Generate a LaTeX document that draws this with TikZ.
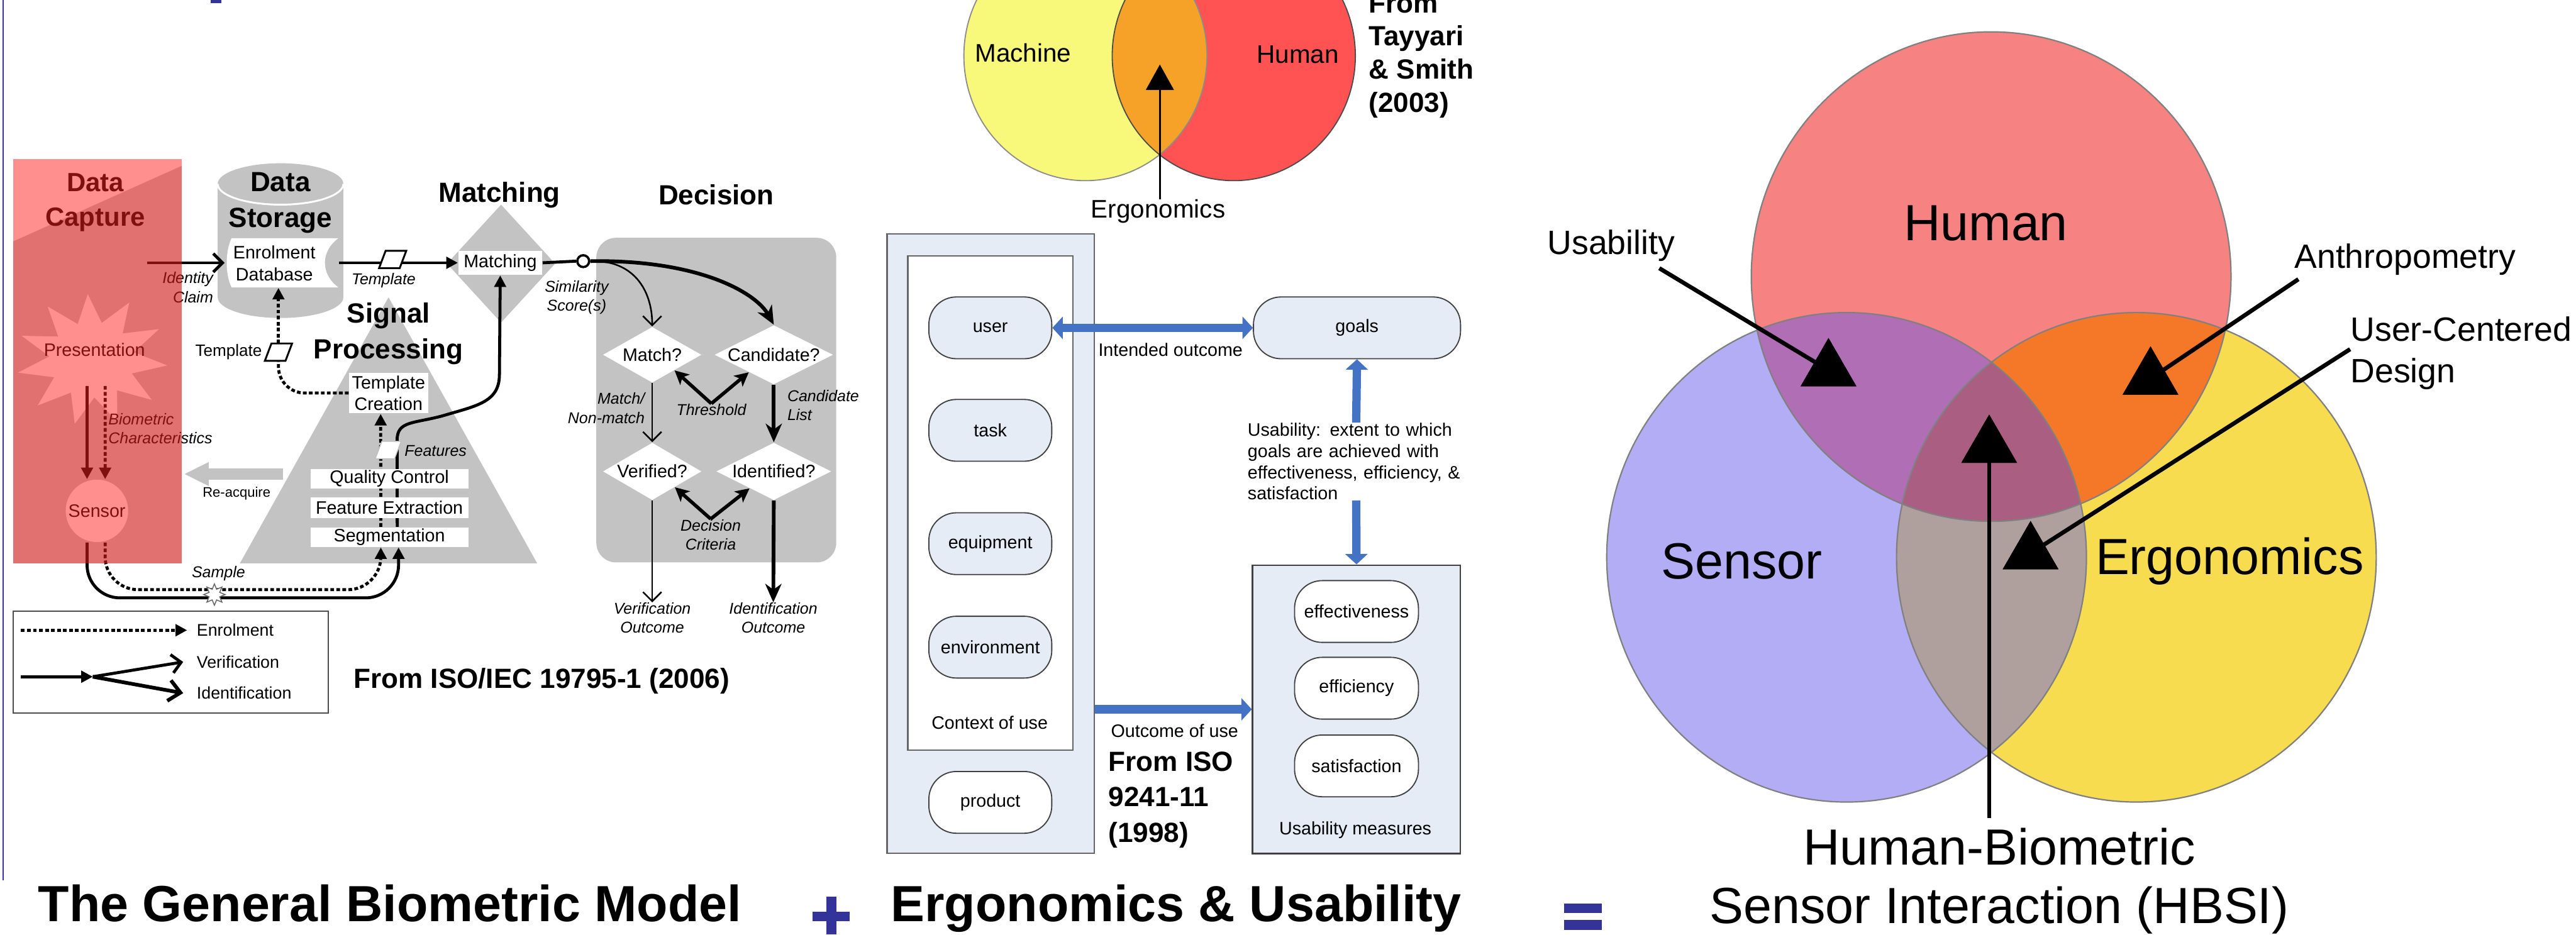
\documentclass[tikz,border=0pt]{standalone}
\usepackage{fontspec}
\setmainfont{Liberation Sans}
\usetikzlibrary{shapes.geometric, arrows.meta, positioning, calc}
\pgfdeclarelayer{bg}
\pgfdeclarelayer{fg}
\pgfsetlayers{bg,main,fg}

\definecolor{capgray}{RGB}{195,195,195}
\definecolor{capred}{RGB}{255,30,30}
\definecolor{slideblue}{RGB}{51,51,153}
\definecolor{paleblue}{RGB}{230,236,246}
\definecolor{isoblue}{RGB}{68,114,196}
\definecolor{machyellow}{RGB}{248,248,122}
\definecolor{humred}{RGB}{255,82,82}
\definecolor{ergorange}{RGB}{246,162,40}
\definecolor{hpink}{RGB}{247,130,130}
\definecolor{slav}{RGB}{179,173,245}
\definecolor{eyel}{RGB}{247,220,80}
\definecolor{hspurple}{RGB}{176,110,180}
\definecolor{heorange}{RGB}{245,120,40}
\definecolor{sebrown}{RGB}{175,160,158}
\definecolor{allmauve}{RGB}{170,95,130}

\newcommand{\fsz}[2]{\fontsize{#1}{#2}\selectfont}
% slanted template box drawn on a plain node
\newcommand{\slantbox}[2][draw=black]{\filldraw[fill=white, line width=0.8pt, #1] ([xshift=-0.05cm]#2.south west) -- ([xshift=-0.05cm]#2.south east) -- ([xshift=0.05cm]#2.north east) -- ([xshift=0.05cm]#2.north west) -- cycle;}
\newcommand{\jline}[1]{\makebox[3.3cm][s]{#1}}

\begin{document}
\begin{tikzpicture}[
  x=0.025cm, y=-0.025cm,
  bigtitle/.style={font={\fsz{22}{26}\bfseries}, inner sep=0},
  sechead/.style={font={\fsz{12}{15.5}\bfseries}, inner sep=0, align=center},
  lbl/.style={font={\fsz{7.8}{9.4}}, inner sep=0, align=center},
  ilbl/.style={font={\fsz{6.8}{8.2}\itshape}, inner sep=0, align=center},
  wbox/.style={fill=white, inner sep=0, font={\fsz{7.8}{9.4}}, align=center},
  dia/.style={diamond, aspect=2, fill=white, inner sep=0, font={\fsz{7.8}{9.4}}},
  para/.style={inner sep=0, minimum width=0.3cm, minimum height=0.25cm},
  pill/.style={draw=black!75, line width=0.5pt, fill=paleblue, rounded corners=0.42cm, minimum width=1.87cm, minimum height=0.94cm, font={\fsz{7.8}{9.4}}, inner sep=0},
  enr/.style={line width=1.3pt, dash pattern=on 1.6pt off 1pt},
  ver/.style={line width=1.3pt},
  arr/.style={-{Triangle[length=5pt,width=5pt]}},
  barb/.style={line width=0.7pt, -{Straight Barb[length=4pt,width=8pt]}},
  heavy/.style={line width=1.6pt, -{Stealth[length=8pt,width=7pt,inset=2.5pt]}},
  tharr/.style={line width=1.5pt, -{Stealth[length=6pt,width=6pt,inset=1.5pt]}},
  barrow/.style={isoblue, line width=3.6pt},
  btip/.style={-{Triangle[length=4.5pt,width=9.5pt]}},
  venn/.style={font={\fsz{22}{25.4}}, inner sep=0, align=center},
  vsmall/.style={font={\fsz{14.6}{18}}, inner sep=0, align=left},
  pointer/.style={line width=1.8pt},
  tmark/.style={regular polygon, regular polygon sides=3, fill=black, minimum size=0.98cm, inner sep=0}
]
\useasboundingbox (0,0) rectangle (1568,569);
\clip (0,0) rectangle (1568,569);

\fill[slideblue] (1.4,0) rectangle (2.4,536);
\fill[slideblue] (128.4,0) rectangle (134.8,1.8);

% general biometric model
\begin{pgfonlayer}{bg}
  \fill[capgray] (8,147) -- (110.6,101) -- (110.6,343) -- (8,343) -- cycle;
  \fill[white] plot[samples at={0,...,21}] ({56+(46-20*mod(\x,2))*cos(\x*360/22+5)}, {219+(40-17*mod(\x,2))*sin(\x*360/22+5)}) -- cycle;
  \fill[capgray] (236.5,181) -- (146,343) -- (327,343) -- cycle;
  \fill[capgray] (132.5,112) -- (132.5,181) arc[start angle=180, end angle=0, x radius=38.25, y radius=12.6] -- (209,112) arc[start angle=0, end angle=-180, x radius=38.25, y radius=12.6] -- cycle;
  \draw[white, line width=0.8pt] (132.5,112) arc[start angle=180, end angle=0, x radius=38.25, y radius=12.6];
  \fill[white] (141,145) -- (206,145) .. controls (195,153) and (195,167) .. (206,175) -- (141,175) .. controls (137,167) and (137,153) .. (141,145) -- cycle;
  \node[diamond, fill=capgray, inner sep=0, minimum width=1.65cm, minimum height=1.8cm] (mdia) at (305,160.5) {};
  \node[fill=capgray, rounded corners=0.3cm, minimum width=3.65cm, minimum height=4.94cm, inner sep=0] (dec) at (436,243.6) {};
  \coordinate (rq1) at (172.4,288.6);
  \coordinate (rq2) at (112,288.6);
  \draw[capgray, line width=4.8pt, -{Triangle[length=10.7pt,width=9.5pt]}] (rq1) -- (rq2);
\end{pgfonlayer}

\node[sechead, font={\fsz{11.4}{15}\bfseries}] (cap) at (58,123.4) {Data\\Capture};
\node[lbl] (pres) at (57.5,213) {Presentation};
\node[circle, fill=white, minimum size=0.95cm, inner sep=0, font={\fsz{7.8}{9.4}}] (sens) at (59,311) {Sensor};
\node[ilbl, anchor=west, align=left] (bchar) at (65.7,261) {Biometric\\Characteristics};
\node[lbl, font={\fsz{6}{7}}] (reacq) at (144,300.6) {Re-acquire};
\node[ilbl, anchor=east, align=right] (idcl) at (130,175) {Identity\\Claim};
\node[sechead] (stor) at (170.7,123.4) {Data\\Storage};
\node[minimum width=1.625cm, minimum height=0.75cm, inner sep=0] (edb) at (173.5,160) {};
\node[lbl] (edbt) at (167,160.3) {Enrolment\\Database};
\node[sechead] (matt) at (304,118.6) {Matching};
\node[wbox, minimum width=1.275cm, minimum height=0.37cm] (mbox) at (304.5,160) {Matching};
\node[para] (tpl1) at (239,158) {};
\slantbox{tpl1}
\node[ilbl] (tpl1l) at (233.5,170.7) {Template};
\node[sechead] (sigp) at (236.5,203.3) {Signal\\Processing};
\node[wbox, minimum width=1.2cm, minimum height=0.62cm] (tc) at (236.5,239.3) {Template\\Creation};
\node[para] (tpl2) at (169.5,214.4) {};
\slantbox{tpl2}
\node[lbl, font={\fsz{7.1}{8}}, anchor=east] (tpl2l) at (159.7,214.4) {Template};
\node[para, minimum width=0.28cm] (feat) at (236.3,274) {};
\slantbox[draw=black!25, line width=0.4pt]{feat}
\node[ilbl, anchor=west] (featl) at (246,274.6) {Features};
\node[wbox, minimum width=2.4cm, minimum height=0.29cm] (qc) at (237,291.5) {Quality Control};
\node[wbox, minimum width=2.4cm, minimum height=0.31cm] (fe) at (237,309.2) {Feature Extraction};
\node[wbox, minimum width=2.4cm, minimum height=0.3cm] (seg) at (237,327) {Segmentation};
\node[ilbl] (sampl) at (133,349) {Sample};
\node[circle, draw, line width=1pt, fill=white, minimum size=0.18cm, inner sep=0] (sim) at (355,159) {};
\node[ilbl] (siml) at (351,181) {Similarity\\Score(s)};

\begin{pgfonlayer}{bg}
  \coordinate (bc1) at (53,235);
  \coordinate (bc2) at (64,235);
  \draw[ver, arr] (bc1) -- ([xshift=-1.5mm]sens.north);
  \draw[enr, arr] (bc2) -- ([xshift=1.25mm]sens.north);
  \coordinate (idc) at (89.4,160);
  \draw[ver, -{Straight Barb[length=4pt,width=8pt]}] (idc) -- ([xshift=-1mm]edb.west);
  \draw[ver, arr] (edb.east) -- (mbox.west);
  \draw[enr, rounded corners=4mm] (tc.west) -| (tpl2.south);
  \draw[enr, arr] (tpl2.north) -- (tpl2.north |- edb.south);
  \draw[enr, arr] ([xshift=-1.3mm]seg.north) -- ([xshift=-1.2mm]tc.south);
  \draw[ver, arr] ([xshift=1.2mm]seg.north) -- (241.7,268) .. controls (241.7,256) and (252,258) .. (270,253) .. controls (290,247) and (304,245) .. (304,228) -- (mbox.south);
  \coordinate (sb1) at (150,364);
  \coordinate (sb2) at (150,359);
  \draw[ver, arr, rounded corners=5mm] ([xshift=-1.5mm]sens.south) |- (sb1) -| ([xshift=1.4mm]seg.south);
  \draw[enr, arr, rounded corners=5mm] ([xshift=1.25mm]sens.south) |- (sb2) -| ([xshift=-1.3mm]seg.south);
  \draw[ver] (mbox.east) -- (sim.west);
\end{pgfonlayer}
\draw[black!60, fill=white, line width=0.4pt] plot[samples at={0,...,15}] ({130.5+(6.5-3*mod(\x,2))*cos(\x*22.5)}, {362+(6.5-3*mod(\x,2))*sin(\x*22.5)}) -- cycle;

\node[sechead] (dect) at (436,118.6) {Decision};
\node[dia, minimum width=1.5cm, minimum height=0.85cm] (matchq) at (397,216) {Match?};
\node[dia, minimum width=1.75cm, minimum height=0.9cm] (candq) at (471,216) {Candidate?};
\node[dia, minimum width=1.5cm, minimum height=0.875cm] (verq) at (397,287) {Verified?};
\node[dia, minimum width=1.75cm, minimum height=0.875cm] (identq) at (471,287) {Identified?};
\draw[barb] (sim.east) .. controls (385,158) and (397,176) .. (matchq.north);
\draw[heavy] (sim.east) .. controls (425,158) and (460,178) .. (candq.north);
\draw[barb] (matchq.south) -- (verq.north);
\draw[heavy] (candq.south) -- (identq.north);
\node[ilbl, anchor=east, align=right] (mnm) at (392.7,248.5) {Match/\\Non-match};
\node[ilbl, anchor=west, align=left] (clist) at (479,246.8) {Candidate\\List};
\node[ilbl] (thrl) at (433,249.5) {Threshold};
\draw[tharr] (thrl.north) -- (matchq.-35);
\draw[tharr] (thrl.north) -- (candq.215);
\node[ilbl] (dcrl) at (432.6,325.5) {Decision\\Criteria};
\draw[tharr] (dcrl.north) -- (verq.-35);
\draw[tharr] (dcrl.north) -- (identq.215);
\node[ilbl] (voutl) at (397,376.3) {Verification\\Outcome};
\node[ilbl] (ioutl) at (470.7,376.3) {Identification\\Outcome};
\draw[barb] (verq.south) -- (voutl.north);
\draw[heavy] (identq.south) -- (ioutl.north);

\node[draw=black!70, line width=0.6pt, minimum width=4.79cm, minimum height=1.55cm, inner sep=0] (leg) at (104,403) {};
\node[lbl, font={\fsz{7.3}{8.5}}, anchor=west] (lenr) at (119.5,383.7) {Enrolment};
\node[lbl, font={\fsz{7.3}{8.5}}, anchor=west] (lver) at (119.5,403) {Verification};
\node[lbl, font={\fsz{7.3}{8.5}}, anchor=west] (lid) at (119.5,422) {Identification};
\coordinate (lg1) at (12.8,383.7);
\coordinate (lg3) at (12.8,412);
\coordinate (lg4) at (56.5,412);
\draw[enr, arr] (lg1) -- ([xshift=-0.14cm]lenr.west);
\draw[ver, arr] (lg3) -- (lg4);
\draw[ver, -{Straight Barb[length=4pt,width=8pt]}] (lg4) -- ([xshift=-0.2cm]lver.west);
\draw[line width=1.6pt, -{Straight Barb[length=5pt,width=9pt]}] (lg4) -- ([xshift=-0.2cm]lid.west);
\node[sechead, anchor=west] (isoref) at (215,414.6) {From ISO/IEC 19795-1 (2006)};

\begin{pgfonlayer}{fg}
  \fill[capred, opacity=0.5] (8,97) rectangle (110.6,343);
\end{pgfonlayer}

% ergonomics and usability
\fill[machyellow] (660.7,34) ellipse [x radius=74, y radius=76];
\fill[humred] (751,34) ellipse [x radius=74, y radius=76];
\begin{scope}
  \clip (660.7,34) ellipse [x radius=74, y radius=76];
  \fill[ergorange] (751,34) ellipse [x radius=74, y radius=76];
\end{scope}
\draw[black!45, line width=0.5pt] (660.7,34) ellipse [x radius=74, y radius=76];
\draw[black!70, line width=0.5pt] (751,34) ellipse [x radius=74, y radius=76];
\node[lbl, font={\fsz{11}{13}}] (machl) at (622.8,32.2) {Machine};
\node[lbl, font={\fsz{11}{13}}] (huml) at (790,33.4) {Human};
\node[lbl, font={\fsz{11}{13}}] (ergl) at (705,128.7) {Ergonomics};
\coordinate (ergt) at (706,39.3);
\draw[line width=0.8pt, -{Triangle[length=11pt,width=12pt]}] (ergl.north -| ergt) -- (ergt);
\node[sechead, anchor=west, align=left, font={\fsz{12}{14.4}\bfseries}] (tayl) at (833,34) {From\\Tayyari\\\& Smith\\(2003)};

\node[draw=black!60, line width=0.6pt, fill=paleblue, minimum width=3.15cm, minimum height=9.42cm, inner sep=0] (ctxo) at (603,331) {};
\node[draw=black!60, line width=0.6pt, fill=white, minimum width=2.515cm, minimum height=7.515cm, inner sep=0] (ctxi) at (602.9,306.3) {};
\node[pill] (user) at (602.8,199.6) {user};
\node[pill] (task) at (602.8,262) {task};
\node[pill] (equip) at (602.8,331) {equipment};
\node[pill] (envir) at (602.8,394) {environment};
\node[lbl] (ctxl) at (602.4,439.8) {Context of use};
\node[pill, fill=white] (prod) at (602.8,488.5) {product};
\node[pill, minimum width=3.15cm] (goals) at (826,199.6) {goals};
\node[font={\fsz{7.8}{9.2}}, text width=3.3cm, align=left, inner sep=0] (utxt) at (825.5,281) {\jline{Usability: extent to which}\\\jline{goals are achieved with}\\\jline{effectiveness, efficiency, \&}\\satisfaction};
\node[draw=black!75, line width=0.6pt, fill=paleblue, minimum width=3.165cm, minimum height=4.39cm, inner sep=0] (umbox) at (825.7,431.85) {};
\node[pill, fill=white, minimum width=1.885cm] (effect) at (825.7,372.3) {effectiveness};
\node[pill, fill=white, minimum width=1.885cm] (effic) at (825.7,419) {efficiency};
\node[pill, fill=white, minimum width=1.885cm] (satis) at (825.7,466.3) {satisfaction};
\node[lbl] (uml) at (825,505.5) {Usability measures};
\draw[barrow, {Triangle[length=4.5pt,width=9.5pt]}-{Triangle[length=4.5pt,width=9.5pt]}] (user.east) -- (goals.west);
\node[lbl, anchor=west] (intl) at (668.3,212.8) {Intended outcome};
\draw[barrow, btip] (utxt.north) -- (goals.south);
\draw[barrow, btip] (utxt.south) -- (umbox.north);
\draw[barrow, btip] (umbox.west -| ctxo.east) -- (umbox.west);
\node[lbl] (outl) at (715,444.8) {Outcome of use};
\node[sechead, anchor=west, align=left, font={\fsz{12}{15.3}\bfseries}] (isoref2) at (674.5,487) {From ISO\\9241-11\\(1998)};

% hbsi
\fill[slav] (1124,339.3) ellipse [x radius=146, y radius=149];
\fill[eyel] (1300.4,339.3) ellipse [x radius=146, y radius=149];
\fill[hpink] (1212,168.4) ellipse [x radius=146, y radius=149];
\begin{scope}
  \clip (1300.4,339.3) ellipse [x radius=146, y radius=149];
  \fill[heorange] (1212,168.4) ellipse [x radius=146, y radius=149];
\end{scope}
\begin{scope}
  \clip (1124,339.3) ellipse [x radius=146, y radius=149];
  \fill[sebrown] (1300.4,339.3) ellipse [x radius=146, y radius=149];
  \fill[hspurple] (1212,168.4) ellipse [x radius=146, y radius=149];
  \clip (1300.4,339.3) ellipse [x radius=146, y radius=149];
  \fill[allmauve] (1212,168.4) ellipse [x radius=146, y radius=149];
\end{scope}
\draw[black!50, line width=0.6pt] (1124,339.3) ellipse [x radius=146, y radius=149];
\draw[black!50, line width=0.6pt] (1300.4,339.3) ellipse [x radius=146, y radius=149];
\draw[black!50, line width=0.6pt] (1212,168.4) ellipse [x radius=146, y radius=149];

\node[venn] (humanl) at (1208.8,136) {Human};
\node[venn] (sensl) at (1060.2,341.8) {Sensor};
\node[venn] (ergol) at (1357.2,341.8) {Ergonomics};
\node[vsmall] (usab) at (980.7,149.7) {Usability};
\node[vsmall] (anth) at (1464,158) {Anthropometry};
\node[vsmall, anchor=west] (ucd) at (1430.5,215.1) {User-Centered\\Design};
\node[venn] (hbsil) at (1217,536.4) {Human-Biometric\\Sensor Interaction (HBSI)};

\coordinate (p1) at (1010,163.3);
\coordinate (p2) at (1399,170);
\coordinate (p3) at (1430.5,212.6);
\coordinate (p4) at (1210.8,498);
\node[tmark] (tri1) at (1113,225.4) {};
\node[tmark] (tri2) at (1309,230.5) {};
\node[tmark] (tri3) at (1236,336.8) {};
\node[tmark] (tri4) at (1210.8,272) {};
\draw[pointer] (p1) -- (tri1.center);
\draw[pointer] (p2) -- (tri2.center);
\draw[pointer] (p3) -- (tri3.center);
\draw[pointer] (p4) -- (tri4.center);
\node[tmark] at (tri1) {};
\node[tmark] at (tri2) {};
\node[tmark] at (tri3) {};
\node[tmark] at (tri4) {};

% bottom line
\node[bigtitle, anchor=base west] (gbm) at (23,561) {The General Biometric Model};
\node[bigtitle, anchor=base west] (ergu) at (542,561) {Ergonomics \& Usability};
\fill[slideblue] (494.6,555) rectangle (517,561);
\fill[slideblue] (503,546) rectangle (509,569);
\fill[slideblue] (952,550) rectangle (975,556);
\fill[slideblue] (952,560) rectangle (975,566);
\end{tikzpicture}
\end{document}
